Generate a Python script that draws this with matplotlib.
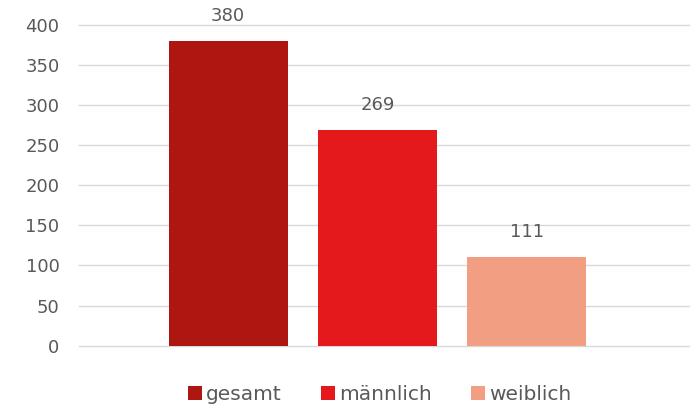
import matplotlib.pyplot as plt
from matplotlib.patches import Patch

categories = ['gesamt', 'männlich', 'weiblich']
values = [380, 269, 111]
colors = ['#AE1711', '#E3191C', '#F29E82']
y_ticks = [0, 50, 100, 150, 200, 250, 300, 350, 400]

text_color = '#595959'
plt.rcParams['font.family'] = ['DejaVu Sans']

fig = plt.figure(figsize=(6.99, 4.09), dpi=100)
ax = fig.add_axes([0.113, 0.155, 0.873, 0.784])

x = list(range(len(categories)))
bars = ax.bar(x, values, width=0.8, color=colors, zorder=3)
for b, v in zip(bars, values):
    ax.annotate(str(v), (b.get_x() + b.get_width() / 2, v),
                xytext=(0, 18), textcoords='offset points',
                ha='center', va='center', fontsize=13, color=text_color)

ax.set_xlim(-1.0, 3.09)
ax.set_ylim(0, 400)
ax.set_yticks(y_ticks)
ax.set_xticks([])
ax.yaxis.grid(True, color='#D9D9D9', linewidth=1, zorder=0)
for gl in ax.yaxis.get_gridlines():
    gl.set_clip_on(False)
ax.tick_params(axis='y', length=0, pad=14, labelsize=13, labelcolor=text_color)
for s in ax.spines.values():
    s.set_visible(False)

handles = [Patch(facecolor=c, label=l) for c, l in zip(colors, categories)]
fig.legend(handles=handles, loc='center', bbox_to_anchor=(0.543, 0.035),
           ncol=3, frameon=False, fontsize=14.5, labelcolor=text_color,
           handlelength=0.7, handleheight=0.7, handletextpad=0.2,
           columnspacing=1.95)

fig.savefig('out.png', dpi=100)
